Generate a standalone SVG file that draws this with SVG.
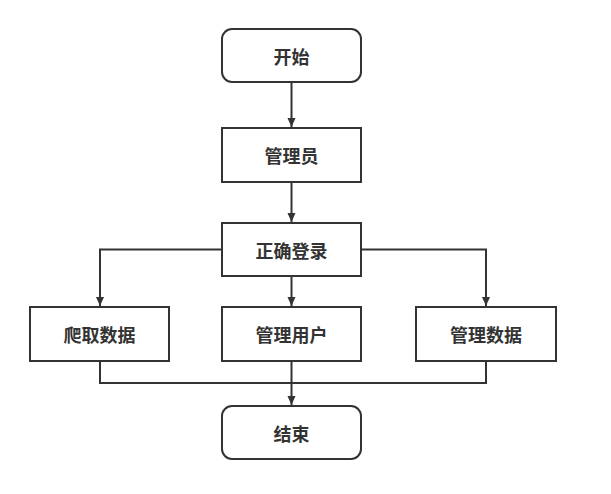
<svg xmlns="http://www.w3.org/2000/svg" width="611" height="494" viewBox="0 0 611 494">
<style>
.box{fill:#fff;stroke:#333;stroke-width:2}
.lbl{font-family:"Noto Sans CJK SC","Noto Sans",sans-serif;font-size:18px;font-weight:bold;fill:#333;text-anchor:middle;dominant-baseline:central}
.edge{fill:none;stroke:#333;stroke-width:2}
</style>
<defs>
<marker id="arr" markerWidth="10" markerHeight="10" refX="9" refY="5" orient="auto" markerUnits="userSpaceOnUse">
<path d="M0,1 L9,5 L0,9 Z" fill="#333"/>
</marker>
</defs>
<rect width="611" height="494" fill="#fff"/>
<g id="connectors">
<path class="edge" d="M291.5,82 V127" marker-end="url(#arr)"/>
<path class="edge" d="M291.5,182 V222" marker-end="url(#arr)"/>
<path class="edge" d="M291.5,276 V306" marker-end="url(#arr)"/>
<path class="edge" d="M222,249.5 H100 V306" marker-end="url(#arr)"/>
<path class="edge" d="M361,249.5 H486 V306" marker-end="url(#arr)"/>
<path class="edge" d="M100,361 V383 H486 V361"/>
<path class="edge" d="M291.5,361 V405" marker-end="url(#arr)"/>
</g>
<g id="start">
<rect class="box" x="222" y="29" width="139" height="53" rx="10"/>
<text class="lbl" x="291.5" y="55.5">开始</text>
</g>
<g id="admin">
<rect class="box" x="222" y="128" width="139" height="54"/>
<text class="lbl" x="291.5" y="155">管理员</text>
</g>
<g id="login">
<rect class="box" x="222" y="223" width="139" height="53"/>
<text class="lbl" x="291.5" y="249.5">正确登录</text>
</g>
<g id="crawl">
<rect class="box" x="30" y="307" width="139" height="54"/>
<text class="lbl" x="99.5" y="334">爬取数据</text>
</g>
<g id="users">
<rect class="box" x="222" y="307" width="139" height="54"/>
<text class="lbl" x="291.5" y="334">管理用户</text>
</g>
<g id="data">
<rect class="box" x="416" y="307" width="140" height="54"/>
<text class="lbl" x="486" y="334">管理数据</text>
</g>
<g id="end">
<rect class="box" x="222" y="406" width="139" height="53" rx="10"/>
<text class="lbl" x="291.5" y="432.5">结束</text>
</g>
</svg>
